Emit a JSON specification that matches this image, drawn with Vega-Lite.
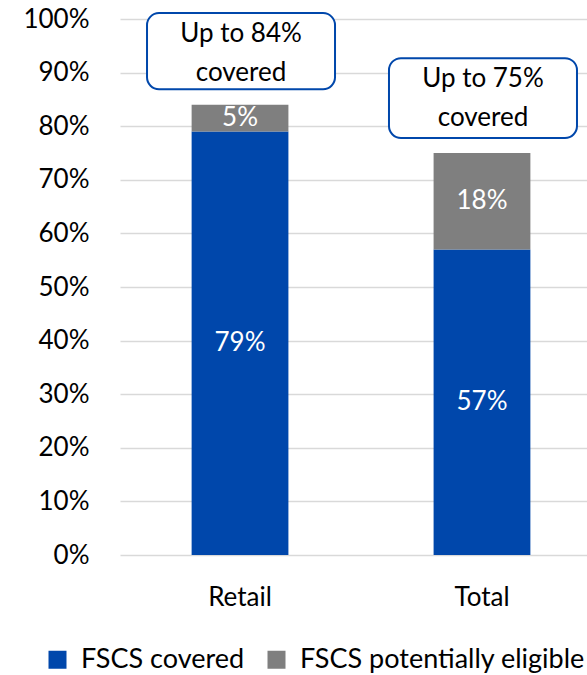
{
  "$schema": "https://vega.github.io/schema/vega-lite/v6.json",
  "width": 467,
  "height": 536,
  "autosize": {"type": "none"},
  "padding": {"left": 120, "top": 19, "right": 0, "bottom": 120},
  "background": "white",
  "config": {"view": {"stroke": null}, "font": "Lato"},
  "datasets": {
    "bars": [
      {"category": "Retail", "series": "FSCS covered", "value": 0.79},
      {"category": "Retail", "series": "FSCS potentially eligible", "value": 0.05},
      {"category": "Total", "series": "FSCS covered", "value": 0.57},
      {"category": "Total", "series": "FSCS potentially eligible", "value": 0.18}
    ],
    "notes": [
      {"category": "Retail", "top": 1.011, "bottom": 0.869, "label": "Up to 84%\ncovered"},
      {"category": "Total", "top": 0.927, "bottom": 0.778, "label": "Up to 75%\ncovered"}
    ]
  },
  "encoding": {
    "x": {
      "field": "category",
      "type": "nominal",
      "sort": null,
      "scale": {"paddingInner": 0.6, "paddingOuter": 0.265, "align": 0.5585},
      "axis": {
        "title": null,
        "labelAngle": 0,
        "labelFontSize": 26,
        "labelColor": "#000000",
        "labelPadding": 29,
        "ticks": false,
        "tickSize": 0,
        "domain": false,
        "grid": false
      }
    }
  },
  "layer": [
    {
      "data": {"name": "bars"},
      "mark": {"type": "bar"},
      "encoding": {
        "y": {
          "field": "value",
          "type": "quantitative",
          "stack": "zero",
          "scale": {"domain": [0, 1], "nice": false},
          "axis": {
            "title": null,
            "values": [0, 0.1, 0.2, 0.3, 0.4, 0.5, 0.6, 0.7, 0.8, 0.9, 1],
            "format": ".0%",
            "labelFontSize": 26,
            "labelColor": "#000000",
            "labelPadding": 31,
            "ticks": false,
            "tickSize": 0,
            "domain": false,
            "gridColor": "#D9D9D9",
            "gridWidth": 1.5
          }
        },
        "order": {"field": "series", "sort": "ascending"},
        "color": {
          "field": "series",
          "type": "nominal",
          "scale": {
            "domain": ["FSCS covered", "FSCS potentially eligible"],
            "range": ["#0047AB", "#7F7F7F"]
          },
          "legend": {
            "title": null,
            "orient": "none",
            "direction": "horizontal",
            "legendX": -76,
            "legendY": 627,
            "symbolType": "square",
            "symbolSize": 324,
            "symbolStrokeWidth": 0,
            "labelFontSize": 27,
            "labelColor": "#000000",
            "labelOffset": 10,
            "labelLimit": 500,
            "columnPadding": 18
          }
        }
      }
    },
    {
      "data": {"name": "bars"},
      "mark": {"type": "text", "color": "#FFFFFF", "fontSize": 26, "baseline": "middle"},
      "encoding": {
        "y": {"field": "value", "type": "quantitative", "stack": "zero", "bandPosition": 0.5},
        "order": {"field": "series", "sort": "ascending"},
        "detail": {"field": "series"},
        "text": {"field": "value", "type": "quantitative", "format": ".0%"}
      }
    },
    {
      "data": {"name": "notes"},
      "mark": {"type": "bar", "width": 188, "fill": "#FFFFFF", "stroke": "#0047AB", "strokeWidth": 2, "cornerRadius": 12, "xOffset": 1},
      "encoding": {
        "y": {"field": "top", "type": "quantitative"},
        "y2": {"field": "bottom"}
      }
    },
    {
      "data": {"name": "notes"},
      "mark": {"type": "text", "fontSize": 26, "color": "#000000", "baseline": "top", "lineBreak": "\n", "lineHeight": 39, "dy": 8, "xOffset": 1},
      "encoding": {
        "y": {"field": "top", "type": "quantitative"},
        "text": {"field": "label"}
      }
    }
  ]
}
